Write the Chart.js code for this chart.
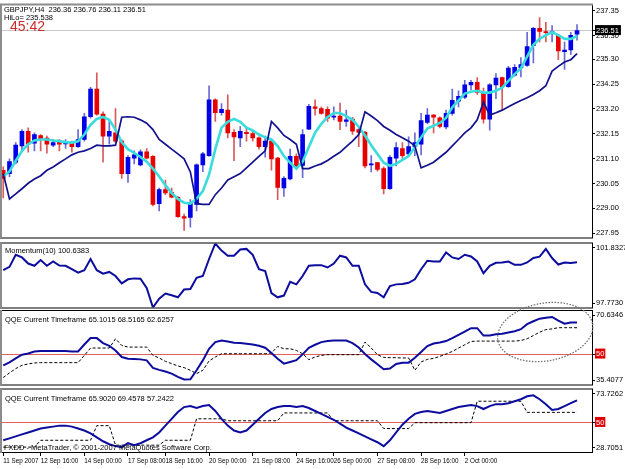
<!DOCTYPE html>
<html lang="en">
<head>
<meta charset="UTF-8">
<title>GBPJPY,H4</title>
<style>
    body { margin: 0; background: #fff; }
    #wrap { position: relative; width: 625px; height: 469px; overflow: hidden; background: #fff; }
    #wrap canvas { position: absolute; left: 0; }
</style>
<script src="https://cdn.jsdelivr.net/npm/chart.js@4"></script>
</head>
<body>
<div id="wrap">
    <canvas id="mainChart" width="625" height="243" style="top:0"></canvas>
    <canvas id="momChart" width="625" height="75" style="top:238px"></canvas>
    <canvas id="qqe1Chart" width="625" height="94" style="top:296px"></canvas>
    <canvas id="qqe2Chart" width="625" height="85" style="top:384px"></canvas>
</div>
<script>
// ---- data (one entry per H4 bar) ----
const opens = [230.61,230.47,230.95,231.64,232.26,231.75,232.08,231.97,231.67,231.80,
    231.72,231.78,231.61,231.91,232.87,234.04,232.98,232.05,232.19,231.84,
    230.47,231.12,230.84,231.39,231.20,229.20,229.79,229.68,229.47,228.65,
    228.62,229.17,230.84,231.23,233.59,233.04,233.15,232.21,231.98,232.21,
    232.16,231.98,231.61,231.84,231.12,229.86,230.24,231.20,230.81,232.35,
    233.29,233.22,233.18,232.85,232.90,232.67,232.77,232.33,232.21,230.84,
    230.93,230.68,229.83,231.12,231.53,231.30,231.61,231.71,232.63,232.94,
    232.83,232.44,233.01,233.53,233.70,234.22,234.32,233.90,232.77,234.22,
    234.52,234.14,234.63,234.93,235.04,235.87,236.61,236.47,236.42,236.31,
    235.62,235.69,236.36];
const highs = [230.75,231.09,231.78,232.33,232.40,232.19,232.12,232.05,231.91,231.91,
    231.91,231.84,232.33,233.01,234.11,234.73,233.08,232.67,233.22,231.91,
    231.23,231.43,231.47,231.53,231.23,229.86,230.20,229.86,229.51,228.76,
    229.37,230.88,231.37,234.18,233.63,233.43,233.80,232.33,232.46,232.40,
    232.26,232.02,232.05,231.91,231.16,230.34,231.50,231.30,232.33,233.40,
    233.59,233.29,233.29,233.29,233.45,233.15,232.85,232.40,232.26,231.23,
    230.95,230.75,231.23,231.78,231.78,232.02,232.19,233.01,233.22,232.97,
    232.87,233.15,234.04,233.97,234.41,234.41,234.52,234.08,234.27,234.69,
    234.55,235.00,235.07,235.37,236.44,236.65,237.06,236.86,236.72,236.33,
    236.03,236.44,236.76];
const lows = [229.44,230.34,230.88,231.43,231.37,231.43,231.43,231.33,231.61,231.43,
    231.53,231.37,231.57,231.84,232.81,232.94,230.95,231.71,231.78,230.27,
    230.10,230.88,230.79,231.09,229.10,228.89,229.58,229.44,228.62,228.07,
    228.21,228.89,230.55,231.20,232.67,232.94,231.98,231.02,231.61,231.84,
    231.84,231.50,231.16,230.61,229.37,229.51,230.20,230.68,230.30,232.33,
    232.94,232.98,232.67,232.74,232.33,232.46,232.12,231.61,230.71,230.54,
    230.57,229.61,229.80,230.79,231.12,231.23,231.23,231.26,232.57,232.19,
    232.40,232.36,232.94,233.29,233.63,234.00,233.81,232.60,232.30,233.63,
    233.15,234.11,234.59,234.55,235.00,235.14,236.03,236.03,236.03,235.28,
    234.87,235.49,236.11];
const closes = [230.27,230.98,231.67,232.26,231.71,232.12,231.94,231.71,231.78,231.71,
    231.78,231.61,231.91,232.87,234.04,232.98,232.05,232.26,231.84,230.47,
    231.16,231.26,231.39,231.12,229.17,229.79,229.65,229.47,228.65,228.59,
    229.24,230.84,231.30,233.59,233.04,233.18,232.19,232.02,232.26,232.16,
    231.98,231.61,231.84,231.09,229.89,230.27,231.20,230.75,232.12,233.31,
    233.22,233.01,232.81,232.90,232.67,232.74,232.26,232.21,230.79,230.88,
    230.65,229.83,231.16,231.57,231.23,231.61,231.78,232.71,232.94,232.85,
    232.46,233.01,233.56,233.73,234.22,234.32,233.90,232.77,234.22,234.50,
    234.14,234.93,234.96,235.07,235.83,236.61,236.47,236.42,236.47,235.65,
    235.69,236.31,236.51];
// fast moving average (cyan)
const fastMa = [230.35,230.56,231.01,231.42,231.71,231.87,231.91,231.91,231.87,231.84,
    231.80,231.78,231.83,232.12,232.53,232.78,232.86,232.74,232.33,231.79,
    231.50,231.34,231.17,230.97,230.68,230.35,229.98,229.65,229.40,229.24,
    229.20,229.40,229.73,230.43,231.50,232.41,232.66,232.78,232.66,232.41,
    232.29,232.12,232.00,231.91,231.63,231.21,230.93,230.68,230.97,231.59,
    232.20,232.57,232.86,233.03,233.03,232.90,232.74,232.45,232.08,231.67,
    231.30,230.93,230.80,230.88,231.05,231.21,231.59,232.00,232.37,232.49,
    232.61,232.82,233.27,233.56,233.85,233.93,233.97,233.89,233.89,233.97,
    234.10,234.39,234.67,234.92,235.41,235.91,236.16,236.32,236.44,236.32,
    236.16,236.16,236.28];
// HiLo activator (navy)
const hiLo = [230.47,229.40,229.61,229.83,230.06,230.24,230.38,230.61,230.75,230.93,
    231.09,231.26,231.37,231.43,231.53,231.67,231.64,231.64,231.67,232.85,
    232.87,232.85,232.74,232.60,232.33,231.91,231.71,231.50,231.30,231.09,
    230.54,229.20,229.17,229.17,229.58,229.86,230.20,230.34,230.47,230.71,
    230.95,231.20,231.43,232.67,232.40,232.08,231.91,231.71,230.68,230.68,
    230.79,230.88,231.02,231.20,231.37,231.61,231.84,232.12,233.08,232.90,
    232.71,232.46,232.30,232.12,231.98,231.84,231.64,230.71,230.82,230.95,
    231.16,231.37,231.64,231.91,232.19,232.40,232.74,233.49,232.94,233.04,
    233.15,233.29,233.43,233.56,233.67,233.81,233.97,234.18,234.80,235.00,
    235.18,235.28,235.538];
const momentum = [100.14,100.35,101.12,100.95,100.56,100.42,100.78,100.42,100.69,100.43,
    100.42,100.20,99.98,100.14,100.85,100.14,99.92,100.03,99.77,99.30,
    99.56,99.62,99.60,99.02,97.773,98.33,98.66,98.55,98.42,98.91,
    98.95,99.66,99.77,100.85,101.8327,101.38,101.06,101.06,101.45,101.49,
    101.12,100.20,100.09,98.69,98.42,98.53,99.40,99.24,99.77,100.42,
    100.46,100.46,100.31,100.56,101.06,100.95,100.42,100.42,99.24,98.76,
    98.69,98.42,99.13,99.24,99.26,99.34,99.56,100.20,100.74,100.69,
    100.69,101.27,100.95,100.85,101.12,101.01,100.69,99.95,100.42,100.61,
    100.63,100.69,100.48,100.48,100.63,100.91,101.00,101.49,100.91,100.50,
    100.62,100.60,100.6383];
const qqe1Main = [44.60,46.02,47.93,49.69,50.31,51.26,51.45,51.45,51.45,51.45,
    51.45,51.26,51.26,54.59,57.64,57.64,55.26,53.97,51.73,48.59,
    47.78,47.64,47.45,46.97,43.36,42.40,41.60,40.64,39.07,37.79,
    37.93,42.21,46.97,52.54,55.73,56.50,56.02,55.40,55.26,54.92,
    54.59,53.97,53.02,50.50,47.78,45.41,46.21,47.07,49.83,53.02,
    54.45,55.73,56.21,56.50,56.50,56.50,55.26,53.16,50.02,47.45,
    45.07,42.69,43.02,45.26,45.88,45.88,48.26,50.97,53.83,55.07,
    55.54,56.21,57.64,59.21,60.78,62.40,62.40,58.88,58.88,59.54,
    59.69,60.30,60.97,61.92,64.30,65.73,66.97,67.44,67.78,66.02,
    64.59,65.10,65.1015];
const qqe1Trail = [38.74,40.98,43.02,44.60,45.26,45.74,45.88,45.88,45.88,45.88,
    45.88,45.88,45.88,49.36,52.88,52.88,52.88,52.88,57.31,54.12,
    53.35,53.35,53.35,53.35,49.36,48.12,46.50,45.41,44.31,43.50,
    42.21,40.64,42.21,46.69,48.59,50.16,50.16,50.16,50.16,50.16,
    50.16,50.16,50.16,50.50,53.64,52.54,52.54,51.73,50.16,47.31,
    48.59,49.36,49.69,49.69,49.69,49.69,49.69,49.69,55.73,52.88,
    49.69,48.40,48.26,48.26,48.12,48.12,42.21,46.21,47.45,47.93,
    48.88,50.02,51.26,52.88,54.45,56.02,56.21,56.21,56.21,56.21,
    56.21,56.21,56.21,56.50,57.31,58.88,60.49,61.73,62.06,62.63,
    62.63,62.63,62.6257];
const qqe2Main = [37.15,38.55,39.96,41.37,42.77,44.18,45.59,46.29,46.99,47.70,
    47.70,46.99,45.59,44.18,42.07,39.26,36.44,34.33,32.93,32.22,
    35.04,33.63,35.04,37.15,39.26,42.77,47.70,52.62,57.55,61.06,
    61.77,60.36,61.77,62.47,58.25,52.62,47.70,44.18,42.77,44.18,
    48.40,52.62,56.84,59.66,61.06,61.77,61.77,61.06,61.77,60.36,
    58.25,56.14,54.03,51.92,49.11,46.29,44.18,42.07,39.96,37.85,
    35.74,32.93,37.15,42.77,48.40,52.62,56.14,57.55,58.25,57.55,
    56.84,58.25,59.66,61.06,61.77,62.47,61.77,59.66,61.77,63.17,
    63.17,63.88,65.28,66.69,68.80,69.51,66.69,63.17,58.95,59.66,
    61.77,63.88,65.902];
const qqe2Trail = [32.22,32.22,32.22,32.22,32.22,32.22,37.15,37.15,37.15,37.15,
    37.15,37.15,37.15,37.15,37.15,47.70,47.70,47.70,33.63,33.63,
    33.63,33.63,33.63,33.63,33.63,33.63,37.15,37.15,37.15,37.15,
    37.15,52.62,52.62,52.62,52.62,52.62,51.22,51.22,51.22,51.22,
    51.22,51.22,51.22,51.22,51.22,56.84,56.84,56.84,56.84,56.84,
    56.84,56.84,56.84,51.22,51.22,51.22,51.22,51.22,51.22,51.22,
    51.22,45.59,45.59,45.59,45.59,45.59,49.81,49.81,49.81,49.81,
    49.81,49.81,49.81,49.81,49.81,49.81,65.28,65.28,65.28,65.28,
    65.28,65.28,65.28,65.28,57.24,57.24,57.24,57.24,57.24,57.24,
    57.24,57.24,57.2422];

// axis labels
const priceTicks = [237.35, 236.30, 235.30, 234.25, 233.20, 232.15, 231.10, 230.05, 229.00, 227.95];
const momScale = [101.8327, 97.7730];
const qqe1Scale = [70.6346, 50, 35.4077];
const qqe2Scale = [73.7262, 50, 28.7051];
const qqe1Header = [65.1015, 68.5165, 62.6257];
const qqe2Header = [65.9020, 69.4578, 57.2422];
const timeLabels = ['11 Sep 2007', '12 Sep 16:00', '14 Sep 00:00', '17 Sep 08:00', '18 Sep 16:00', '20 Sep 00:00',
    '21 Sep 08:00', '24 Sep 16:00', '26 Sep 00:00', '27 Sep 08:00', '28 Sep 16:00', '2 Oct 00:00'];
const timeTickBars = [0, 6, 13, 20, 26, 33, 40, 47, 53, 60, 67, 74];

const last = closes.length - 1;
const lastClose = closes[last];
const FONT = '"Liberation Sans", Arial, sans-serif';

Chart.defaults.font.family = FONT;
Chart.defaults.font.size = 7.5;
Chart.defaults.color = '#000';

// frame lines around each sub window
const panelFrame = {
    id: 'panelFrame',
    afterDraw(chart, args, opts) {
        const { ctx, chartArea: a } = chart;
        ctx.save();
        ctx.fillStyle = opts.topColor || '#000';
        ctx.fillRect(0, a.top - (opts.topWidth || 1), a.right + 1, opts.topWidth || 1);
        ctx.fillStyle = '#000';
        ctx.fillRect(0, a.bottom, a.right + 1, 1);
        ctx.fillStyle = '#8c8c8c';
        ctx.fillRect(0, a.top - 1, 2, a.bottom - a.top + 2);
        ctx.restore();
    }
};

// indicator captions drawn over the plot, like the terminal does
const captions = {
    id: 'captions',
    afterDraw(chart, args, opts) {
        const { ctx, chartArea: a } = chart;
        ctx.save();
        ctx.textBaseline = 'alphabetic';
        (opts.items || []).forEach(t => {
            ctx.font = t.font || ('7.5px ' + FONT);
            ctx.fillStyle = t.color || '#000';
            const y = t.fromBottom ? a.bottom - t.dy : a.top + t.dy;
            ctx.fillText(t.text, a.left + t.dx, y);
        });
        ctx.restore();
    }
};

// hand drawn dotted ellipse on the first QQE window
const noteEllipse = {
    id: 'noteEllipse',
    afterDraw(chart, args, opts) {
        if (!opts.box) return;
        const { ctx } = chart;
        const xs = chart.scales.x, ys = chart.scales.y;
        const x0 = xs.getPixelForValue(opts.box[0]), x1 = xs.getPixelForValue(opts.box[1]);
        const y0 = ys.getPixelForValue(opts.box[2]), y1 = ys.getPixelForValue(opts.box[3]);
        ctx.save();
        ctx.setLineDash([1.5, 1.5]);
        ctx.strokeStyle = '#707070';
        ctx.lineWidth = 1.3;
        ctx.beginPath();
        ctx.ellipse((x0 + x1) / 2, (y0 + y1) / 2, Math.abs(x1 - x0) / 2, Math.abs(y1 - y0) / 2, -0.17, 0, Math.PI * 2);
        ctx.stroke();
        ctx.restore();
    }
};

const pts = arr => arr.map((v, i) => ({ x: i, y: v }));
const isUp = i => closes[i] >= opens[i];

function xAxis(show) {
    return {
        type: 'linear', min: -0.2, max: 94.4, offset: false, display: show,
        afterFit: a => { a.height = show ? 17 : 0; },
        afterBuildTicks: a => { a.ticks = timeTickBars.map(v => ({ value: v })); },
        ticks: { autoSkip: false, maxRotation: 0, minRotation: 0, align: 'start', padding: 1,
            font: { size: 6.3 }, callback: (v, i) => timeLabels[i] },
        grid: { drawOnChartArea: false, tickLength: 4, tickColor: '#000' },
        border: { color: '#000' }
    };
}

function sideAxis(labels, level) {
    const n = labels.length;
    return {
        position: 'right', min: labels[n - 1], max: labels[0],
        afterFit: a => { a.width = 33; },
        afterBuildTicks: a => {
            const pad = (a.max - a.min) * 4.5 / (a.height || 60);
            a.ticks = labels.map((v, i) => ({ value: i === 0 ? v - pad : (i === n - 1 ? v + pad : v) }));
        },
        ticks: {
            autoSkip: false, padding: 1,
            callback: (v, i) => Number.isInteger(labels[i]) ? String(labels[i]) : labels[i].toFixed(4),
            color: c => c.tick && c.tick.value === level ? '#fff' : '#000',
            showLabelBackdrop: c => !!c.tick && c.tick.value === level,
            backdropColor: '#e00000',
            backdropPadding: { top: 1, bottom: 0, left: 1, right: 1 }
        },
        grid: { color: c => c.tick && c.tick.value === level ? '#e06060' : 'rgba(0,0,0,0)', tickColor: '#000', tickLength: 3 },
        border: { color: '#000' }
    };
}

function baseOptions(pad, scales, pluginOpts) {
    return {
        responsive: false, animation: false, devicePixelRatio: 1, events: [],
        layout: { padding: pad },
        scales: scales,
        plugins: Object.assign({ legend: { display: false }, tooltip: { enabled: false } }, pluginOpts)
    };
}

// ---- price window ----
new Chart(document.getElementById('mainChart'), {
    type: 'bar',
    data: {
        datasets: [
            { type: 'line', data: pts(hiLo), borderColor: '#12128e', borderWidth: 1.7, pointRadius: 0, order: 1 },
            { type: 'line', data: pts(fastMa), borderColor: '#3adcdc', borderWidth: 2.6, pointRadius: 0, order: 2 },
            { data: opens.map((o, i) => ({ x: i, y: [o, closes[i]] })),
              backgroundColor: opens.map((o, i) => isUp(i) ? '#0000e8' : '#e80000'),
              barThickness: 4, minBarLength: 1, grouped: false, order: 3 },
            { data: lows.map((l, i) => ({ x: i, y: [l, highs[i]] })),
              backgroundColor: opens.map((o, i) => isUp(i) ? '#6a6ad6' : '#d85a5a'),
              barThickness: 1, grouped: false, order: 4 }
        ]
    },
    options: baseOptions({ left: 2, top: 3, right: 0, bottom: 2 }, {
        x: xAxis(false),
        y: {
            position: 'right', min: 227.77, max: 237.57, beginAtZero: false,
            afterFit: a => { a.width = 33; },
            afterBuildTicks: a => { a.ticks = priceTicks.concat([lastClose]).map(v => ({ value: v })); },
            ticks: {
                autoSkip: false, padding: 1,
                callback: v => v.toFixed(2),
                color: c => c.tick && c.tick.value === lastClose ? '#fff' : '#000',
                showLabelBackdrop: c => !!c.tick && c.tick.value === lastClose,
                backdropColor: '#000',
                backdropPadding: { top: 1, bottom: 0, left: 1, right: 2 }
            },
            grid: { color: c => c.tick && c.tick.value === lastClose ? '#c8c8c8' : 'rgba(0,0,0,0)', tickColor: '#000', tickLength: 3 },
            border: { color: '#000' }
        }
    }, {
        panelFrame: { topColor: '#8c8c8c', topWidth: 2 },
        captions: { items: [
            { text: 'GBPJPY,H4  ' + [opens[last], highs[last], lows[last], closes[last]].map(v => v.toFixed(2)).join(' '), dx: 2, dy: 6 },
            { text: 'HiLo= ' + hiLo[last].toFixed(3), dx: 2, dy: 14 },
            { text: '45:42', dx: 8, dy: 25, font: '14px ' + FONT, color: '#cc2a2a' }
        ] }
    }),
    plugins: [panelFrame, captions]
});

// ---- momentum window ----
new Chart(document.getElementById('momChart'), {
    type: 'line',
    data: { datasets: [
        { data: pts(momentum), borderColor: '#0c0c9e', borderWidth: 2, pointRadius: 0 }
    ] },
    options: baseOptions({ left: 2, top: 5, right: 0, bottom: 4 }, {
        x: xAxis(false),
        y: sideAxis(momScale, null)
    }, {
        panelFrame: {},
        captions: { items: [ { text: 'Momentum(10) ' + momentum[last].toFixed(4), dx: 3, dy: 9 } ] }
    }),
    plugins: [panelFrame, captions]
});

// ---- QQE windows ----
function qqeChart(id, main, trail, scale, header, pad, extra) {
    return new Chart(document.getElementById(id), {
        type: 'line',
        data: { datasets: [
            { data: pts(main), borderColor: '#0c0c9e', borderWidth: 2, pointRadius: 0, order: 1 },
            { data: pts(trail), borderColor: '#000', borderWidth: 1, borderDash: [3, 2], pointRadius: 0, order: 2 }
        ] },
        options: baseOptions(pad, {
            x: xAxis(id === 'qqe2Chart'),
            y: sideAxis(scale, 50)
        }, Object.assign({
            panelFrame: {},
            captions: { items: [ { text: 'QQE Current Timeframe ' + header.map(v => v.toFixed(4)).join(' '), dx: 3, dy: 11 } ].concat(extra.items || []) }
        }, extra.plugins || {})),
        plugins: [panelFrame, captions, noteEllipse]
    });
}

qqeChart('qqe1Chart', qqe1Main, qqe1Trail, qqe1Scale, qqe1Header,
    { left: 2, top: 15, right: 0, bottom: 4 },
    { plugins: { noteEllipse: { box: [79.2, 94.6, 74.4, 46.7] } } });

qqeChart('qqe2Chart', qqe2Main, qqe2Trail, qqe2Scale, qqe2Header,
    { left: 2, top: 4, right: 0, bottom: 0 },
    { items: [ { text: 'FXDD - MetaTrader, \u00a9 2001-2007 MetaQuotes Software Corp.', dx: 2, dy: 2, fromBottom: true } ] });
</script>
</body>
</html>
